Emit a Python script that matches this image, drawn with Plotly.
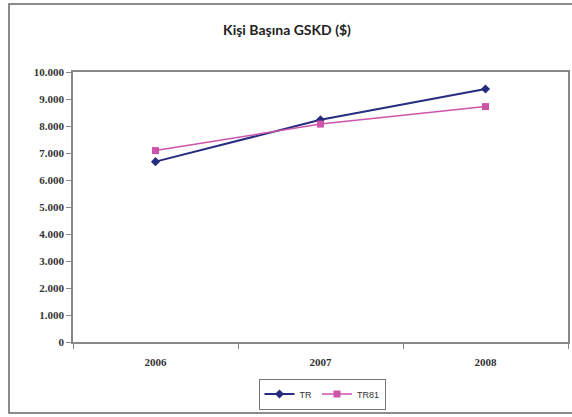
import plotly.graph_objects as go

years = ["2006", "2007", "2008"]
tr = [6680, 8230, 9370]
tr81 = [7090, 8070, 8720]
y_ticks = [0, 1000, 2000, 3000, 4000, 5000, 6000, 7000, 8000, 9000, 10000]
y_labels = ["0", "1.000", "2.000", "3.000", "4.000", "5.000", "6.000", "7.000", "8.000", "9.000", "10.000"]

W, H = 572, 417
L, R, T, B = 73, 4, 72, 75
pw, ph = W - L - R, H - T - B

def px_x(p):
    return (p - L) / pw

def px_y(p):
    return (H - B - p) / ph

fig = go.Figure()
fig.add_trace(go.Scatter(
    x=years, y=tr, name="TR", mode="lines+markers",
    line=dict(color="#262C80", width=2),
    marker=dict(symbol="diamond", size=7, color="#262C80"),
))
fig.add_trace(go.Scatter(
    x=years, y=tr81, name="TR81", mode="lines+markers",
    line=dict(color="#CC55AA", width=1.5),
    marker=dict(symbol="square", size=7, color="#CC55AA"),
))

tick_font = dict(family="Liberation Serif, DejaVu Serif, serif", size=11, color="#333", weight="bold")

fig.update_layout(
    width=W, height=H,
    margin=dict(l=L, r=R, t=T, b=B, autoexpand=False),
    paper_bgcolor="white", plot_bgcolor="white",
    title=dict(text="<b>Kişi Başına GSKD ($)</b>", x=287 / W, xref="container", xanchor="center",
               y=1 - 30 / H, yref="container", yanchor="middle",
               font=dict(family="Lato, Open Sans, sans-serif", size=14, color="#222")),
    font=dict(family="Liberation Serif, DejaVu Serif, serif", size=10, color="#333"),
    showlegend=True,
    legend=dict(orientation="h", x=px_x(322), xanchor="center", y=px_y(394), yanchor="middle",
                bordercolor="#777", borderwidth=1, bgcolor="white",
                font=dict(family="Liberation Sans, Arial, sans-serif", size=9, color="#333"),
                itemwidth=30, tracegroupgap=0),
    xaxis=dict(type="category", range=[-0.5, 2.5], tickson="boundaries", ticks="outside",
               ticklen=5, tickcolor="#888", showline=True, linecolor="#888", linewidth=1.5,
               showgrid=False, mirror=True, ticklabelstandoff=9, tickfont=tick_font,
               fixedrange=True),
    yaxis=dict(range=[0, 10000], tickvals=y_ticks, ticktext=y_labels, ticks="outside",
               ticklen=5, tickcolor="#888", showline=True, linecolor="#888", linewidth=1.5,
               showgrid=False, mirror=True, zeroline=False, tickfont=tick_font,
               fixedrange=True),
)

fig.add_shape(type="rect", xref="paper", yref="paper",
              x0=px_x(9), x1=px_x(580), y0=px_y(413), y1=px_y(4),
              line=dict(color="#666", width=1.5), layer="below")

fig.write_html("out.html", config={"displayModeBar": False},
               post_script="document.body.style.margin='0';document.body.style.padding='0';")
